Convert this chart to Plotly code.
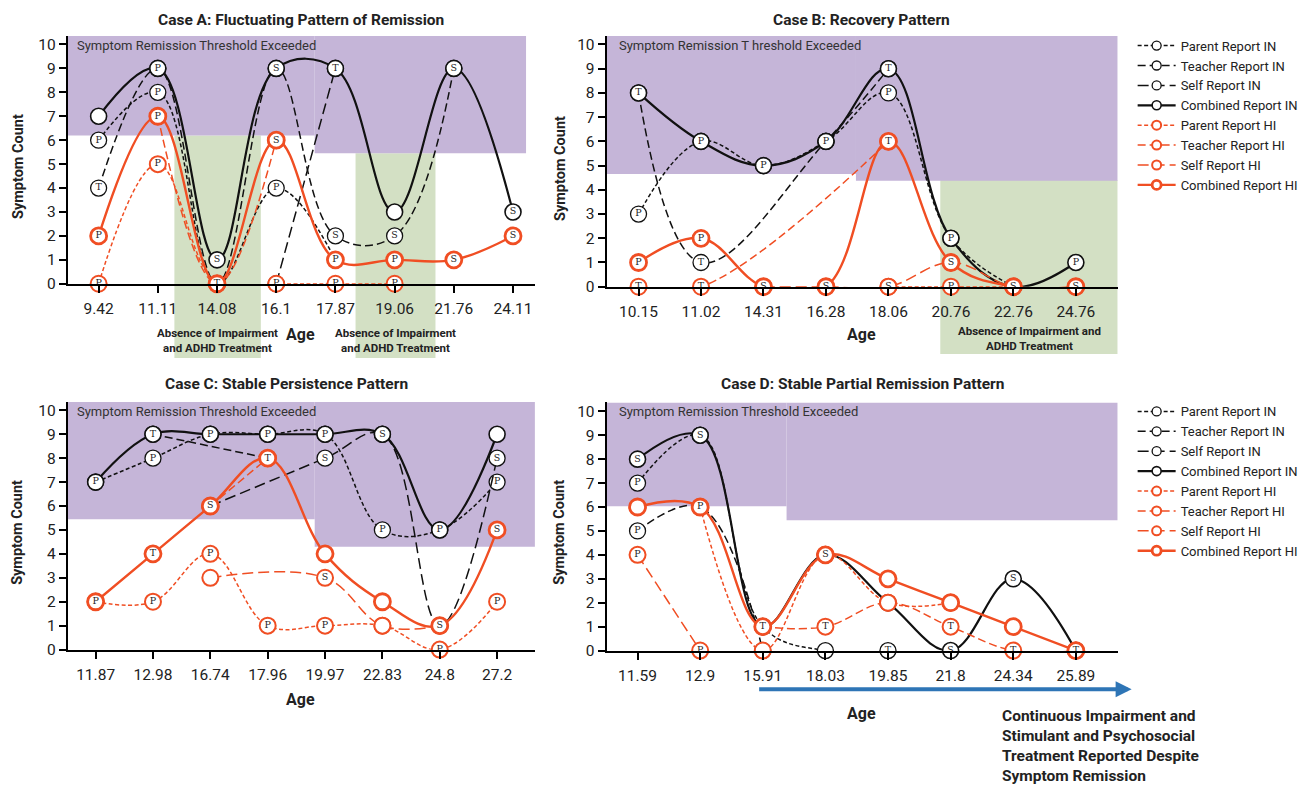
import plotly.graph_objects as go

W, H = 1303, 797

# ---------------- DATA ----------------
AGES_A = ["9.42", "11.11", "14.08", "16.1", "17.87", "19.06", "21.76", "24.11"]
A_PARENT_IN = [6, 8, 0, 4, 1, None, None, None]
A_PARENT_IN_LBL = ["P", "P", "", "P", "", "", "", ""]
A_TEACHER_IN = [4, 9, 0, 9, 2, 2, 9, None]
A_TEACHER_IN_LBL = ["T", "", "", "", "S", "S", "", ""]
A_SELF_IN = [None, None, None, 0, 9, None, None, None]
A_SELF_IN_LBL = ["", "", "", "", "", "", "", ""]
A_COMB_IN = [7, 9, 1, 9, 9, 3, 9, 3]
A_COMB_IN_LBL = ["", "P", "S", "S", "T", "", "S", "S"]
A_PARENT_HI = [0, 5, 0, 0, 0, 0, None, None]
A_PARENT_HI_LBL = ["P", "P", "", "P", "P", "P", "", ""]
A_TEACHER_HI = [None, 7, 0, 6, None, None, None, None]
A_TEACHER_HI_LBL = ["", "", "", "", "", "", "", ""]
A_SELF_HI = [None, None, None, None, None, None, None, None]
A_SELF_HI_LBL = ["", "", "", "", "", "", "", ""]
A_COMB_HI = [2, 7, 0, 6, 1, 1, 1, 2]
A_COMB_HI_LBL = ["P", "P", "T", "S", "P", "P", "S", "S"]

AGES_B = ["10.15", "11.02", "14.31", "16.28", "18.06", "20.76", "22.76", "24.76"]
B_PARENT_IN = [3, 6, 5, 6, 8, 2, 0, None]
B_PARENT_IN_LBL = ["P", "", "", "", "P", "", "", ""]
B_TEACHER_IN = [8, 1, None, 6, 9, None, None, None]
B_TEACHER_IN_LBL = ["", "T", "", "", "", "", "", ""]
B_SELF_IN = [None, None, None, None, None, None, None, None]
B_SELF_IN_LBL = ["", "", "", "", "", "", "", ""]
B_COMB_IN = [8, 6, 5, 6, 9, 2, 0, 1]
B_COMB_IN_LBL = ["T", "P", "P", "P", "T", "P", "S", "P"]
B_PARENT_HI = [None, None, None, None, 0, 0, 0, None]
B_PARENT_HI_LBL = ["", "", "", "", "", "P", "", ""]
B_TEACHER_HI = [0, 0, None, None, 6, None, None, None]
B_TEACHER_HI_LBL = ["T", "T", "", "", "", "", "", ""]
B_SELF_HI = [None, None, 0, 0, 0, 1, 0, 0]
B_SELF_HI_LBL = ["", "", "S", "S", "S", "S", "S", "S"]
B_COMB_HI = [1, 2, 0, 0, 6, 1, 0, 0]
B_COMB_HI_LBL = ["P", "P", "S", "S", "T", "S", "S", "S"]

AGES_C = ["11.87", "12.98", "16.74", "17.96", "19.97", "22.83", "24.8", "27.2"]
C_PARENT_IN = [7, 8, 9, 9, 9, 5, 5, 7]
C_PARENT_IN_LBL = ["P", "P", "P", "P", "P", "P", "P", "P"]
C_TEACHER_IN = [None, 9, None, 8, None, None, None, None]
C_TEACHER_IN_LBL = ["", "", "", "", "", "", "", ""]
C_SELF_IN = [None, None, 6, None, 8, 9, 1, 8]
C_SELF_IN_LBL = ["", "", "", "", "S", "", "S", "S"]
C_COMB_IN = [7, 9, 9, 9, 9, 9, 5, 9]
C_COMB_IN_LBL = ["P", "T", "P", "P", "P", "S", "P", ""]
C_PARENT_HI = [2, 2, 4, 1, 1, 1, 0, 2]
C_PARENT_HI_LBL = ["P", "P", "P", "P", "P", "S", "P", "P"]
C_TEACHER_HI = [None, None, 6, 8, None, None, None, None]
C_TEACHER_HI_LBL = ["", "", "", "", "", "", "", ""]
C_SELF_HI = [None, None, 3, None, 3, 1, 1, None]
C_SELF_HI_LBL = ["", "", "S", "", "S", "", "", ""]
C_COMB_HI = [2, 4, 6, 8, 4, 2, 1, 5]
C_COMB_HI_LBL = ["P", "T", "S", "T", "", "", "S", "S"]

AGES_D = ["11.59", "12.9", "15.91", "18.03", "19.85", "21.8", "24.34", "25.89"]
D_PARENT_IN = [7, 9, 1, 0, 0, None, None, None]
D_PARENT_IN_LBL = ["P", "", "", "", "T", "", "", ""]
D_TEACHER_IN = [5, 6, 0, None, None, None, None, None]
D_TEACHER_IN_LBL = ["P", "", "", "", "", "", "", ""]
D_SELF_IN = [None, None, None, None, None, None, None, None]
D_SELF_IN_LBL = ["", "", "", "", "", "", "", ""]
D_COMB_IN = [8, 9, 1, 4, 2, 0, 3, 0]
D_COMB_IN_LBL = ["S", "S", "T", "S", "T", "S", "S", "T"]
D_PARENT_HI = [None, 6, 0, 4, 2, 2, None, None]
D_PARENT_HI_LBL = ["", "", "P", "", "T", "", "", ""]
D_TEACHER_HI = [None, None, 1, 1, 2, 1, 0, 0]
D_TEACHER_HI_LBL = ["", "", "T", "T", "", "T", "T", "T"]
D_SELF_HI = [4, 0, None, None, None, None, None, None]
D_SELF_HI_LBL = ["P", "P", "", "", "", "", "", ""]
D_COMB_HI = [6, 6, 1, 4, 3, 2, 1, 0]
D_COMB_HI_LBL = ["", "P", "T", "S", "", "", "", "T"]

SERIES_NAMES = ["Parent Report IN", "Teacher Report IN", "Self Report IN", "Combined Report IN",
                "Parent Report HI", "Teacher Report HI", "Self Report HI", "Combined Report HI"]

TITLES = ["Case A: Fluctuating Pattern of Remission", "Case B: Recovery Pattern",
          "Case C: Stable Persistence Pattern", "Case D: Stable Partial Remission Pattern"]

# ---------------- STYLE ----------------
BLACK = "#111111"
RED = "#F04E23"
PURPLE = "#C5B5D8"
GREEN = "#D3E0C4"
FONT = "Roboto"

STYLES = {
    "Parent Report IN": dict(color=BLACK, dash="4px,2.5px", width=1.5, mw=1.3),
    "Teacher Report IN": dict(color=BLACK, dash="8px,4px", width=1.5, mw=1.3),
    "Self Report IN": dict(color=BLACK, dash="11px,5px", width=1.5, mw=1.3),
    "Combined Report IN": dict(color=BLACK, dash="solid", width=2.2, mw=1.6),
    "Parent Report HI": dict(color=RED, dash="4px,2.5px", width=1.5, mw=2.0),
    "Teacher Report HI": dict(color=RED, dash="8px,4px", width=1.5, mw=2.0),
    "Self Report HI": dict(color=RED, dash="11px,5px", width=1.5, mw=2.0),
    "Combined Report HI": dict(color=RED, dash="solid", width=2.4, mw=2.8),
}

PANELS = [
    dict(ages=AGES_A, xl=68, xr=537, t0=99, t7=515, y0=287, y10=45, ytop=36.5,
         series=[(A_PARENT_IN, A_PARENT_IN_LBL), (A_TEACHER_IN, A_TEACHER_IN_LBL), (A_SELF_IN, A_SELF_IN_LBL),
                 (A_COMB_IN, A_COMB_IN_LBL), (A_PARENT_HI, A_PARENT_HI_LBL), (A_TEACHER_HI, A_TEACHER_HI_LBL),
                 (A_SELF_HI, A_SELF_HI_LBL), (A_COMB_HI, A_COMB_HI_LBL)],
         purple=[(3.65, 6.2), (7.22, 5.45)], green=[(1.28, 2.74, 6.2, 362), (4.34, 5.69, 5.45, 362)]),
    dict(ages=AGES_B, xl=609, xr=1122, t0=641, t7=1080, y0=290, y10=45, ytop=36.5,
         series=[(B_PARENT_IN, B_PARENT_IN_LBL), (B_TEACHER_IN, B_TEACHER_IN_LBL), (B_SELF_IN, B_SELF_IN_LBL),
                 (B_COMB_IN, B_COMB_IN_LBL), (B_PARENT_HI, B_PARENT_HI_LBL), (B_TEACHER_HI, B_TEACHER_HI_LBL),
                 (B_SELF_HI, B_SELF_HI_LBL), (B_COMB_HI, B_COMB_HI_LBL)],
         purple=[(3.48, 4.65), (None, 4.37)], green=[(4.83, None, 4.41, 358)]),
    dict(ages=AGES_C, xl=68, xr=537, t0=96, t7=499, y0=657, y10=415, ytop=406.5,
         series=[(C_PARENT_IN, C_PARENT_IN_LBL), (C_TEACHER_IN, C_TEACHER_IN_LBL), (C_SELF_IN, C_SELF_IN_LBL),
                 (C_COMB_IN, C_COMB_IN_LBL), (C_PARENT_HI, C_PARENT_HI_LBL), (C_TEACHER_HI, C_TEACHER_HI_LBL),
                 (C_SELF_HI, C_SELF_HI_LBL), (C_COMB_HI, C_COMB_HI_LBL)],
         purple=[(3.82, 5.45), (None, 4.3)], green=[]),
    dict(ages=AGES_D, xl=609, xr=1122, t0=640, t7=1080, y0=658, y10=416, ytop=407,
         series=[(D_PARENT_IN, D_PARENT_IN_LBL), (D_TEACHER_IN, D_TEACHER_IN_LBL), (D_SELF_IN, D_SELF_IN_LBL),
                 (D_COMB_IN, D_COMB_IN_LBL), (D_PARENT_HI, D_PARENT_HI_LBL), (D_TEACHER_HI, D_TEACHER_HI_LBL),
                 (D_SELF_HI, D_SELF_HI_LBL), (D_COMB_HI, D_COMB_HI_LBL)],
         purple=[(2.38, 6.03), (None, 5.45)], green=[]),
]


def px(x):
    return x / W


def py(y):
    return 1 - y / H


fig = go.Figure()
layout = dict(width=W, height=H, margin=dict(l=0, r=0, t=0, b=0), plot_bgcolor="white",
              paper_bgcolor="white", font=dict(family=FONT, color="#222"), shapes=[], annotations=[])

for i, p in enumerate(PANELS):
    n = "" if i == 0 else str(i + 1)
    xu = (p["t7"] - p["t0"]) / 7.0
    yu = (p["y0"] - p["y10"]) / 10.0
    xr0 = (p["xl"] - p["t0"]) / xu
    xr1 = (p["xr"] - p["t0"]) / xu
    ytopv = (p["y0"] - p["ytop"]) / yu
    layout["xaxis" + n] = dict(domain=[px(p["xl"]), px(p["xr"])], range=[xr0, xr1],
                               tickvals=list(range(8)), ticktext=p["ages"], showgrid=False, zeroline=False,
                               showline=True, linecolor="black", linewidth=2, ticks="outside", ticklen=7,
                               tickwidth=2, tickcolor="black", tickfont=dict(size=15.5, color="#222"),
                               ticklabelstandoff=3, anchor="y" + n, fixedrange=True)
    layout["yaxis" + n] = dict(domain=[py(p["y0"]), py(p["ytop"])], range=[0, ytopv],
                               tickvals=list(range(11)), showgrid=False, zeroline=False,
                               showline=True, linecolor="black", linewidth=2, ticks="outside", ticklen=7,
                               tickwidth=2, tickcolor="black", tickfont=dict(size=15.5, color="#222"),
                               anchor="x" + n, fixedrange=True)
    xa, ya = "x" + n, "y" + n
    prev = xr0
    for (xe, yb) in p["purple"]:
        xe = xr1 if xe is None else xe
        layout["shapes"].append(dict(type="rect", xref=xa, yref=ya, x0=prev, x1=xe, y0=yb, y1=ytopv,
                                     fillcolor=PURPLE, line=dict(width=0), layer="below"))
        prev = xe
    for (g0, g1, gt, gbpx) in p["green"]:
        g1 = xr1 if g1 is None else g1
        ytop_px = p["y0"] - gt * yu
        layout["shapes"].append(dict(type="rect", xref=xa, yref="paper", x0=g0, x1=g1,
                                     y0=py(gbpx), y1=py(ytop_px),
                                     fillcolor=GREEN, line=dict(width=0), layer="below"))
    for name, (vals, lbls) in zip(SERIES_NAMES, p["series"]):
        s = STYLES[name]
        fig.add_trace(go.Scatter(
            x=list(range(8)), y=vals, text=[l if l else None for l in lbls],
            mode="lines+markers+text", textposition="middle center",
            textfont=dict(size=9.5, family="DejaVu Serif", color="#222"),
            line=dict(color=s["color"], dash=s["dash"], width=s["width"], shape="spline", smoothing=1.1),
            marker=dict(symbol="circle", size=16, color="white", line=dict(color=s["color"], width=s["mw"])),
            connectgaps=True, cliponaxis=False, showlegend=False, name=name, hoverinfo="skip",
            xaxis=xa, yaxis=ya))

for lg, xa, ya in [("legend", "x2", "y2"), ("legend2", "x4", "y4")]:
    for name in SERIES_NAMES:
        s = STYLES[name]
        fig.add_trace(go.Scatter(
            x=[None], y=[None], mode="lines+markers", name=name, legend=lg,
            line=dict(color=s["color"], dash=s["dash"], width=s["width"]),
            marker=dict(symbol="circle", size=9, color="white", line=dict(color=s["color"], width=s["mw"])),
            xaxis=xa, yaxis=ya))

leg_common = dict(bgcolor="rgba(0,0,0,0)", font=dict(size=13, color="#222", family=FONT),
                  itemwidth=38, xanchor="left", yanchor="top", tracegroupgap=0)
layout["legend"] = dict(x=px(1137), y=py(31), **leg_common)
layout["legend2"] = dict(x=px(1137), y=py(401), **leg_common)

ann = layout["annotations"]


def text(x, y, t, size, bold=False, angle=0, xanchor="center", align="center", color="#222"):
    ann.append(dict(x=px(x), y=py(y), xref="paper", yref="paper", text=("<b>%s</b>" % t) if bold else t,
                    showarrow=False, font=dict(size=size, family=FONT, color=color), textangle=angle,
                    xanchor=xanchor, yanchor="middle", align=align))


text(302, 20, TITLES[0], 15.5, True)
text(865, 20, TITLES[1], 15.5, True)
text(288, 388, TITLES[2], 15.5, True)
text(866, 388, TITLES[3], 15.5, True)
for (x, y) in [(18, 168), (562, 170), (18, 538), (562, 538)]:
    text(x, y, "Symptom Count", 14.5, True, angle=-90)
for (x, y) in [(302, 338), (865, 338), (302, 707), (865, 722)]:
    text(x, y, "Age", 16, True)
for (x, y), lab in zip([(75, 46), (619, 46), (75, 416), (619, 416)],
                       ["Symptom Remission Threshold Exceeded", "Symptom Remission T hreshold Exceeded",
                        "Symptom Remission Threshold Exceeded", "Symptom Remission Threshold Exceeded"]):
    text(x, y, lab, 13, False, xanchor="left", color="#333")
text(218, 344, "Absence of Impairment<br>and ADHD Treatment", 11.5, True)
text(397, 344, "Absence of Impairment<br>and ADHD Treatment", 11.5, True)
text(1033, 342, "Absence of Impairment and<br>ADHD Treatment", 11.5, True)
text(1004, 755, "Continuous Impairment and<br>Stimulant and Psychosocial<br>Treatment Reported Despite<br>Symptom Remission",
     15.5, True, xanchor="left", align="left")
ann.append(dict(x=px(1136), y=py(697), ax=762 - 1136, ay=0, xref="paper", yref="paper",
                axref="pixel", ayref="pixel", text="", showarrow=True, arrowhead=2, arrowsize=0.8,
                arrowwidth=4, arrowcolor="#2E75B6"))

fig.update_layout(**layout)
fig.write_html("out.html", config={"displayModeBar": False},
               post_script="document.body.style.margin='0px';document.body.style.padding='0px';")
